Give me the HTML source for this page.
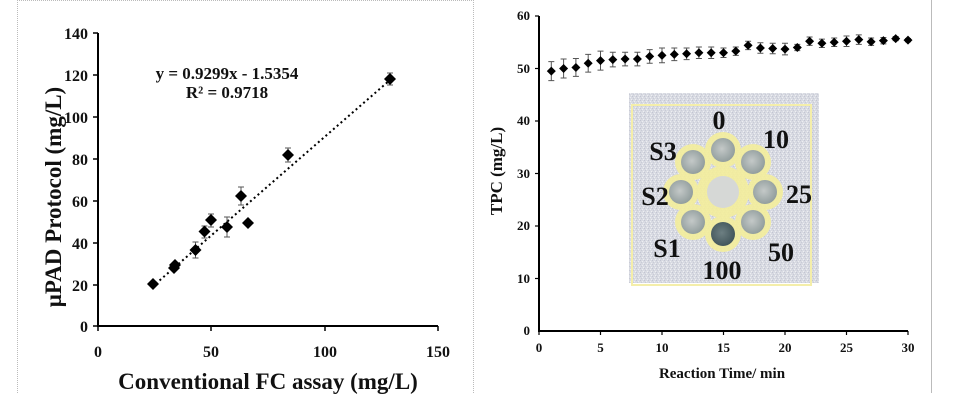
<!DOCTYPE html>
<html><head><meta charset="utf-8"><style>
html,body{margin:0;padding:0;background:#fff}
svg{display:block}
text{font-family:"Liberation Serif",serif;font-weight:bold;fill:#111}
</style></head><body>
<svg width="960" height="416" viewBox="0 0 960 416" xmlns="http://www.w3.org/2000/svg">
<defs>
<pattern id="noise" width="4" height="4" patternUnits="userSpaceOnUse">
<rect width="4" height="4" fill="#d8dae2"/>
<rect x="0" y="0" width="1" height="1" fill="#c2c5d2"/>
<rect x="2" y="1" width="1" height="1" fill="#eceef2"/>
<rect x="1" y="2" width="1" height="1" fill="#c8cbd6"/>
<rect x="3" y="3" width="1" height="1" fill="#eeeff2"/>
</pattern>
<radialGradient id="well" cx="0.45" cy="0.45" r="0.6">
<stop offset="0" stop-color="#c4c9c8"/><stop offset="1" stop-color="#8e9a9a"/>
</radialGradient>
<radialGradient id="wellD" cx="0.45" cy="0.45" r="0.6">
<stop offset="0" stop-color="#6d7f82"/><stop offset="1" stop-color="#3f5358"/>
</radialGradient>
</defs>
<line x1="17" y1="0.5" x2="473" y2="0.5" stroke="#bbb" stroke-dasharray="1,1"/>
<line x1="17.5" y1="0" x2="17.5" y2="393" stroke="#bbb" stroke-dasharray="1,1"/>
<line x1="473.5" y1="0" x2="473.5" y2="393" stroke="#bbb" stroke-dasharray="1,1"/>
<line x1="931.5" y1="0" x2="931.5" y2="393" stroke="#bbb"/>

<!-- LEFT CHART -->
<g stroke="#000" stroke-width="2" fill="none">
<line x1="98" y1="33" x2="98" y2="327"/>
<line x1="97" y1="326" x2="438" y2="326"/>
</g>
<g stroke="#000" stroke-width="1.5">
<line x1="93" y1="33" x2="98" y2="33"/><line x1="93" y1="75" x2="98" y2="75"/>
<line x1="93" y1="117" x2="98" y2="117"/><line x1="93" y1="159" x2="98" y2="159"/>
<line x1="93" y1="201" x2="98" y2="201"/><line x1="93" y1="243" x2="98" y2="243"/>
<line x1="93" y1="285" x2="98" y2="285"/><line x1="93" y1="326" x2="98" y2="326"/>
<line x1="98" y1="326" x2="98" y2="331"/><line x1="211" y1="326" x2="211" y2="331"/>
<line x1="325" y1="326" x2="325" y2="331"/><line x1="438" y1="326" x2="438" y2="331"/>
</g>
<g font-size="16" text-anchor="end">
<text x="88" y="39">140</text><text x="88" y="81">120</text><text x="88" y="123">100</text>
<text x="88" y="165">80</text><text x="88" y="207">60</text><text x="88" y="249">40</text>
<text x="88" y="291">20</text><text x="88" y="332">0</text>
</g>
<g font-size="16" text-anchor="middle">
<text x="98" y="357">0</text><text x="211" y="357">50</text><text x="325" y="357">100</text><text x="438" y="357">150</text>
</g>
<text x="268" y="389" font-size="23" text-anchor="middle">Conventional FC assay (mg/L)</text>
<text transform="translate(61,197) rotate(-90)" font-size="23" text-anchor="middle">μPAD Protocol (mg/L)</text>
<text x="227" y="79" font-size="17" text-anchor="middle">y = 0.9299x - 1.5354</text>
<text x="227" y="98" font-size="17" text-anchor="middle">R² = 0.9718</text>
<line x1="152" y1="287" x2="390" y2="80" stroke="#000" stroke-width="2" stroke-dasharray="2,3"/>
<g stroke="#555" stroke-width="1">
<path d="M195.5 242V258M192.5 242h6M192.5 258h6"/>
<path d="M204.5 226V238M201.5 226h6M201.5 238h6"/>
<path d="M211 214V227M208 214h6M208 227h6"/>
<path d="M227 217V237M224 217h6M224 237h6"/>
<path d="M241 187V205M238 187h6M238 205h6"/>
<path d="M288 148V162M285 148h6M285 162h6"/>
<path d="M390 73V85M387 73h6M387 85h6"/>
</g>
<g fill="#000">
<path d="M153 278l6 6-6 6-6-6z"/>
<path d="M174 262l6 6-6 6-6-6z"/>
<path d="M175 259l6 6-6 6-6-6z"/>
<path d="M195.5 244l6 6-6 6-6-6z"/>
<path d="M204.5 225.5l6 6-6 6-6-6z"/>
<path d="M211 214l6 6-6 6-6-6z"/>
<path d="M227 221l6 6-6 6-6-6z"/>
<path d="M241 190l6 6-6 6-6-6z"/>
<path d="M248 217l6 6-6 6-6-6z"/>
<path d="M288 149l6 6-6 6-6-6z"/>
<path d="M390 73l6 6-6 6-6-6z"/>
</g>

<!-- RIGHT CHART -->
<g stroke="#000" stroke-width="2" fill="none">
<line x1="539" y1="16" x2="539" y2="332"/>
<line x1="538" y1="331" x2="908" y2="331"/>
</g>
<g stroke="#000" stroke-width="1.2">
<line x1="535" y1="16" x2="539" y2="16"/><line x1="535" y1="68.5" x2="539" y2="68.5"/>
<line x1="535" y1="121" x2="539" y2="121"/><line x1="535" y1="173.5" x2="539" y2="173.5"/>
<line x1="535" y1="226" x2="539" y2="226"/><line x1="535" y1="278.5" x2="539" y2="278.5"/>
<line x1="539" y1="331" x2="539" y2="335"/><line x1="600.5" y1="331" x2="600.5" y2="335"/>
<line x1="662" y1="331" x2="662" y2="335"/><line x1="723.5" y1="331" x2="723.5" y2="335"/>
<line x1="785" y1="331" x2="785" y2="335"/><line x1="846.5" y1="331" x2="846.5" y2="335"/>
<line x1="908" y1="331" x2="908" y2="335"/>
</g>
<g font-size="13" text-anchor="end">
<text x="530" y="20">60</text><text x="530" y="73">50</text><text x="530" y="125">40</text>
<text x="530" y="178">30</text><text x="530" y="230">20</text><text x="530" y="283">10</text><text x="530" y="335">0</text>
</g>
<g font-size="13" text-anchor="middle">
<text x="539" y="352">0</text><text x="600.5" y="352">5</text><text x="662" y="352">10</text><text x="723.5" y="352">15</text>
<text x="785" y="352">20</text><text x="846.5" y="352">25</text><text x="908" y="352">30</text>
</g>
<text x="722" y="378" font-size="15" text-anchor="middle">Reaction Time/ min</text>
<text transform="translate(502,171) rotate(-90)" font-size="17" text-anchor="middle">TPC  (mg/L)</text>

<!-- inset -->
<rect x="629" y="93" width="190" height="190" fill="url(#noise)"/>
<rect x="632" y="105" width="179" height="180" fill="none" stroke="#f4eeaa" stroke-width="2"/>
<g transform="translate(723,192)">
<g fill="#f4ee9c" opacity="0.9">
<circle cx="0" cy="-42" r="18"/><circle cx="30" cy="-30" r="18"/><circle cx="42" cy="0" r="18"/><circle cx="30" cy="30" r="18"/>
<circle cx="0" cy="42" r="18"/><circle cx="-30" cy="30" r="18"/><circle cx="-42" cy="0" r="18"/><circle cx="-30" cy="-30" r="18"/>
<circle r="26"/>
</g>
<circle r="16" fill="#d6d8d6"/>
<g fill="url(#well)">
<circle cx="0" cy="-42" r="12"/><circle cx="30" cy="-30" r="12"/><circle cx="42" cy="0" r="12"/><circle cx="30" cy="30" r="12"/>
<circle cx="-30" cy="30" r="12"/><circle cx="-42" cy="0" r="12"/><circle cx="-30" cy="-30" r="12"/>
</g>
<circle cx="0" cy="42" r="12" fill="url(#wellD)"/>
</g>
<g font-size="26" text-anchor="middle">
<text x="719" y="129">0</text><text x="776" y="148">10</text><text x="663" y="160">S3</text>
<text x="655" y="205">S2</text><text x="799" y="203">25</text><text x="667" y="257">S1</text>
<text x="781" y="261">50</text><text x="722" y="279">100</text>
</g>

<g stroke="#555" stroke-width="1" id="eb"></g>
<g fill="#000" id="pts"></g>
<script>
(function(){
var v=[49.5,50,50.2,51,51.5,51.7,51.8,51.8,52.3,52.5,52.7,52.8,53,53,53,53.3,54.4,53.9,53.8,53.7,54,55.2,54.8,55,55.2,55.5,55.1,55.3,55.7,55.4];
var e=[1.8,1.8,1.7,1.7,1.8,1.4,1.3,1.3,1.3,1.4,1.2,1.1,1.1,1.1,0.9,0.8,0.8,1,1,1.1,0.6,0.8,0.8,0.8,1,0.9,0.7,0.6,0.4,0.3];
var ns="http://www.w3.org/2000/svg",eb=document.getElementById('eb'),pts=document.getElementById('pts');
function Y(t){return 331-t*5.25;}
for(var i=0;i<30;i++){var x=539+(i+1)*12.3,y=Y(v[i]),a=Y(v[i]+e[i]),b=Y(v[i]-e[i]);
var p=document.createElementNS(ns,'path');p.setAttribute('d','M'+x+' '+a+'V'+b+'M'+(x-3)+' '+a+'h6M'+(x-3)+' '+b+'h6');p.setAttribute('fill','none');eb.appendChild(p);
var d=document.createElementNS(ns,'path');d.setAttribute('d','M'+x+' '+(y-4.5)+'l4.5 4.5-4.5 4.5-4.5-4.5z');pts.appendChild(d);}
})();
</script>
</svg>
</body></html>
